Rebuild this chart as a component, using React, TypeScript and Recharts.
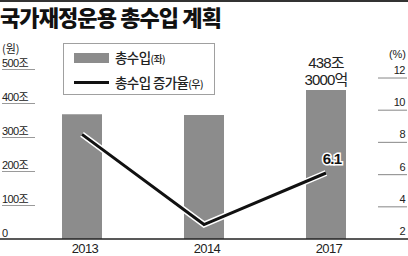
import React from 'react';
import { ComposedChart, Bar, Line, XAxis, YAxis, Legend, LabelList } from 'recharts';

// 국가재정운용 총수입 (조원) and 증가율 (%)
const years = ['2013', '2014', '2017'];
const revenue = [367, 365, 438.3];
const growthRate = [8.5, 2.9, 6.1];
const revenueLabels = ['', '', '438조|3000억'];
const rateLabels = ['', '', '6.1'];
const leftTicks = [0, 100, 200, 300, 400, 500];
const rightTicks = [2, 4, 6, 8, 10, 12];

const data = years.map((year, i) => ({
  year,
  revenue: revenue[i],
  rate: growthRate[i],
  revenueLabel: revenueLabels[i],
  rateLabel: rateLabels[i],
}));

const FONT = "'Liberation Sans', 'Noto Sans CJK KR', sans-serif";
const KR = "'Noto Sans CJK KR', sans-serif";
const BAR_GRAY = '#8c8c8c';

const LeftTick = ({ y, payload }: any) => {
  const v = payload.value;
  return (
    <g>
      {v === 0 ? (
        <line x1={0} x2={408} y1={y} y2={y} stroke="#222" strokeWidth={1.5} />
      ) : (
        <line x1={2} x2={35} y1={y + 0.5} y2={y + 0.5} stroke="#9a9a9a" strokeWidth={1.2} />
      )}
      <text x={2} y={y - 2} fontSize={11} fontFamily={FONT} fill="#222" letterSpacing={-0.6}>
        {v === 0 ? '0' : `${v}조`}
      </text>
    </g>
  );
};

const RightTick = ({ y, payload }: any) => (
  <g>
    {payload.value !== 2 && (
      <line x1={378} x2={407} y1={y} y2={y} stroke="#9a9a9a" strokeWidth={1.2} />
    )}
    <text x={405} y={y - 4} fontSize={11} fontFamily={FONT} fill="#222" textAnchor="end" letterSpacing={-0.5}>
      {payload.value}
    </text>
  </g>
);

const YearTick = ({ x, y, payload }: any) => (
  <text x={x + 3} y={y + 6} fontSize={13} fontFamily={FONT} fill="#222" textAnchor="middle" letterSpacing={-0.6}>
    {payload.value}
  </text>
);

const RevenueLabel = ({ x, y, width, value }: any) => {
  if (!value) return null;
  const [a, b] = String(value).split('|');
  const cx = x + width / 2;
  return (
    <text fontSize={15} fontFamily={FONT} fill="#222" textAnchor="middle" letterSpacing={-0.8}>
      <tspan x={cx} y={y - 22}>{a}</tspan>
      <tspan x={cx} y={y - 5}>{b}</tspan>
    </text>
  );
};

const RateLabel = ({ x, y, value }: any) => {
  if (!value) return null;
  return (
    <text
      x={x + 6}
      y={y - 9}
      fontSize={15}
      fontWeight={700}
      fontFamily={FONT}
      fill="#111"
      stroke="#fff"
      strokeWidth={3}
      paintOrder="stroke"
      textAnchor="middle"
      letterSpacing={-0.8}
    >
      {value}
    </text>
  );
};

const LegendBox = () => (
  <div
    style={{
      width: 152,
      height: 52,
      boxSizing: 'border-box',
      border: '1px solid #a0a0a0',
      background: '#fff',
      fontFamily: KR,
      color: '#222',
      position: 'relative',
    }}
  >
    <div style={{ position: 'absolute', left: 10, top: 9, width: 35, height: 10, background: BAR_GRAY }} />
    <div style={{ position: 'absolute', left: 51, top: 4, fontSize: 13.5, lineHeight: '18px', fontWeight: 500, letterSpacing: -0.6, whiteSpace: 'nowrap' }}>
      총수입<span style={{ fontSize: 10 }}>(좌)</span>
    </div>
    <div style={{ position: 'absolute', left: 10, top: 37, width: 35, height: 3, background: '#111' }} />
    <div style={{ position: 'absolute', left: 51, top: 29, fontSize: 13.5, lineHeight: '18px', fontWeight: 500, letterSpacing: -0.6, whiteSpace: 'nowrap' }}>
      총수입 증가율<span style={{ fontSize: 10 }}>(우)</span>
    </div>
  </div>
);

export default function App() {
  return (
    <div style={{ position: 'absolute', left: 0, top: 0, width: 408, height: 256, background: '#fff', overflow: 'hidden' }}>
      <div style={{ position: 'absolute', left: 0, top: 0, width: 408, height: 2, background: '#333' }} />
      <div
        style={{
          position: 'absolute',
          left: 0,
          top: 0,
          fontFamily: KR,
          fontWeight: 900,
          fontSize: 22,
          letterSpacing: -0.9,
          color: '#111',
          lineHeight: '32px',
          whiteSpace: 'nowrap',
        }}
      >
        국가재정운용 총수입 계획
      </div>
      <ComposedChart
        width={408}
        height={256}
        data={data}
        margin={{ top: 69, right: 0, bottom: 0, left: 0 }}
        style={{ position: 'absolute', left: 0, top: 0 }}
      >
        <XAxis dataKey="year" height={17} axisLine={false} tickLine={false} tick={<YearTick />} interval={0} />
        <YAxis
          yAxisId="left"
          width={21}
          domain={[0, 500]}
          ticks={leftTicks}
          axisLine={false}
          tickLine={false}
          tick={<LeftTick />}
          label={() => (
            <text x={2} y={53} fontSize={11} fontFamily={KR} fill="#222">(원)</text>
          )}
        />
        <YAxis
          yAxisId="right"
          orientation="right"
          width={21}
          domain={[2, 12.56]}
          ticks={rightTicks}
          allowDataOverflow
          axisLine={false}
          tickLine={false}
          tick={<RightTick />}
          label={() => (
            <text x={406} y={58} fontSize={11} fontFamily={FONT} fill="#222" textAnchor="end">(%)</text>
          )}
        />
        <Legend
          layout="vertical"
          align="center"
          verticalAlign="middle"
          content={<LegendBox />}
          wrapperStyle={{ left: 63, top: 43, width: 152, height: 52 }}
        />
        <Bar yAxisId="left" dataKey="revenue" barSize={40} fill={BAR_GRAY} isAnimationActive={false}>
          <LabelList dataKey="revenueLabel" content={<RevenueLabel />} />
        </Bar>
        <Line
          yAxisId="right"
          dataKey="rate"
          stroke="#fff"
          strokeWidth={6}
          strokeLinejoin="miter"
          dot={false}
          activeDot={false}
          legendType="none"
          isAnimationActive={false}
        />
        <Line
          yAxisId="right"
          dataKey="rate"
          stroke="#111"
          strokeWidth={3}
          strokeLinejoin="miter"
          dot={false}
          activeDot={false}
          isAnimationActive={false}
        >
          <LabelList dataKey="rateLabel" content={<RateLabel />} />
        </Line>
      </ComposedChart>
    </div>
  );
}
